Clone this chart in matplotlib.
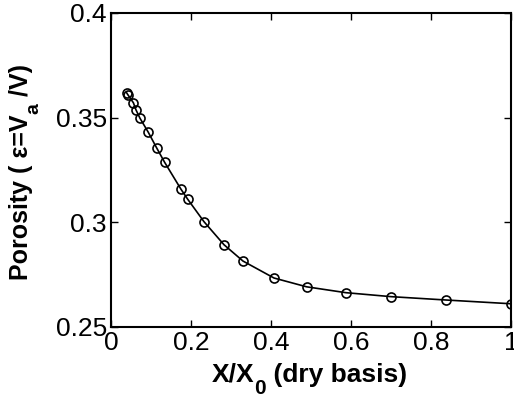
import matplotlib
matplotlib.use("Agg")
import matplotlib.pyplot as plt
from matplotlib.ticker import FuncFormatter
from matplotlib.transforms import IdentityTransform

x = [0.039, 0.042, 0.056, 0.0625, 0.0725, 0.093, 0.114, 0.134, 0.175, 0.1915,
     0.2325, 0.2825, 0.33, 0.4075, 0.489, 0.587, 0.70, 0.837, 1.0]
y = [0.3619, 0.3610, 0.3571, 0.3537, 0.3497, 0.3431, 0.3356, 0.3287, 0.3158, 0.3111,
     0.3003, 0.2893, 0.2815, 0.2734, 0.2692, 0.2664, 0.2645, 0.2629, 0.2611]
xticks = [0, 0.2, 0.4, 0.6, 0.8, 1]
yticks = [0.25, 0.3, 0.35, 0.4]

plt.rcParams['font.family'] = ['Liberation Sans', 'DejaVu Sans']

W, H = 514, 397
fig = plt.figure(figsize=(W / 100, H / 100), dpi=100)
ax = fig.add_axes([111 / W, 1 - 327 / H, 400 / W, 314 / H])
ax.plot(x, y, '-', color='black', lw=1.2, marker='o', ms=6.5,
        mfc='none', mec='black', mew=1.2)
ax.set_xlim(0, 1)
ax.set_ylim(0.25, 0.4)
ax.set_xticks(xticks)
ax.set_yticks(yticks)
fmt = FuncFormatter(lambda v, p: ('%g' % v))
ax.xaxis.set_major_formatter(fmt)
ax.yaxis.set_major_formatter(fmt)
ax.tick_params(direction='in', top=True, right=True, labelsize=19, length=5, width=1, pad=3)
for s in ax.spines.values():
    s.set_linewidth(1.5)

renderer = fig.canvas.get_renderer()


def pieces_label(pieces, center, base, rotated):
    # pieces: list of (text, size, offset_px)
    widths = []
    for t, sz, off in pieces:
        tt = fig.text(0, 0, t, fontsize=sz, fontweight='bold', transform=IdentityTransform())
        widths.append(tt.get_window_extent(renderer).width)
        tt.remove()
    total = sum(widths)
    pos = center - total / 2
    for (t, sz, off), w in zip(pieces, widths):
        if rotated:
            fig.text(base + off, pos, t, fontsize=sz, fontweight='bold', rotation=90,
                     rotation_mode='anchor', ha='left', va='baseline',
                     transform=IdentityTransform())
        else:
            fig.text(pos, base - off, t, fontsize=sz, fontweight='bold',
                     ha='left', va='baseline', transform=IdentityTransform())
        pos += w


pieces_label([('X/X', 19, 0), ('0', 15, 12), (' (dry basis)', 19, 0)],
             center=309, base=H - 382, rotated=False)
pieces_label([('Porosity ( ε=V', 18, 0), ('a', 14, 10), (' /V)', 18, 0)],
             center=H - 172, base=28, rotated=True)

fig.savefig('out.png', dpi=100)
